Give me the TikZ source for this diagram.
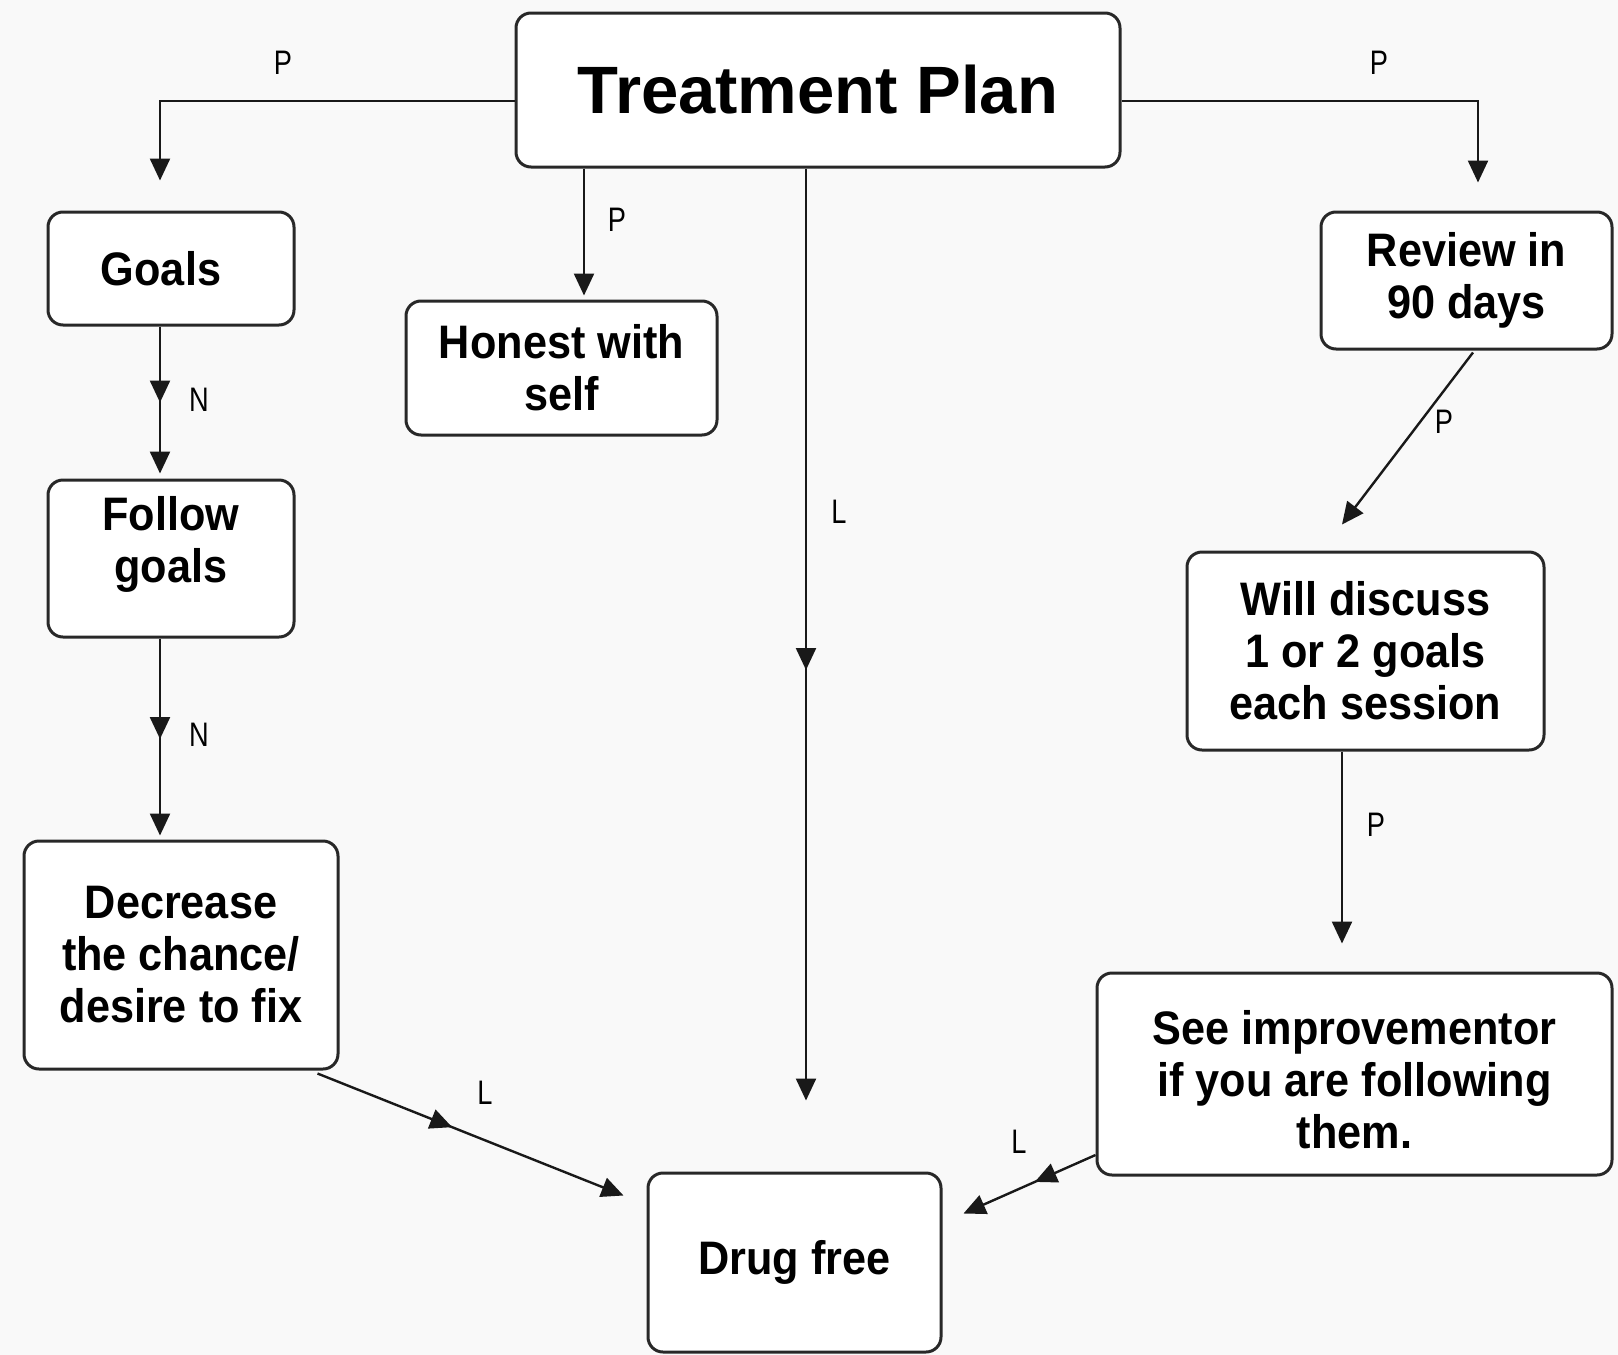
\documentclass[tikz,border=0pt]{standalone}
\usepackage{fontspec}
\setmainfont{Liberation Sans}
\newfontfamily\titlefont{Liberation Sans}
\newfontfamily\boxfont{Liberation Sans}[FakeStretch=0.92]
\newfontfamily\labelfont{Liberation Sans}[FakeStretch=0.8]
\usetikzlibrary{arrows.meta,calc,decorations.markings}

\definecolor{bg}{RGB}{249,249,249}
\definecolor{boxline}{RGB}{40,40,40}
\definecolor{lineclr}{RGB}{25,25,25}

% stacked lines with extra room above (#1) and below (#2)
\newcommand\padlines[3]{\raisebox{0pt}[\dimexpr\height+#1\relax][\dimexpr\depth+#2\relax]{%
  \begin{tabular}{@{}c@{}}#3\end{tabular}}}

\tikzset{
  box/.style={draw=boxline, line width=1.5pt, rounded corners=7.5pt, fill=white,
    align=center, inner sep=2pt,
    font=\boxfont\bfseries\fontsize{23.5}{26}\selectfont},
  conn/.style={draw=lineclr, line width=1.2pt, -{Triangle[length=11pt,width=10pt]}},
  midarrow/.style={postaction={decorate}, decoration={markings,
    mark=at position #1 with {\arrow{Triangle[length=11pt,width=10pt]}}}},
  lbl/.style={font=\labelfont\fontsize{17}{19}\selectfont, inner sep=0pt, text=black},
}

\begin{document}
\begin{tikzpicture}[x=0.5pt,y=-0.5pt]
% page background
\fill[bg] (0,0) rectangle (1618,1355);
\useasboundingbox (0,0) rectangle (1618,1355);

% boxes
\node[box, minimum width=302pt, minimum height=77pt,
      font=\titlefont\bfseries\fontsize{33.5}{40}\selectfont] (tp) at (818,90) {Treatment Plan};
\node[box, minimum width=123pt, minimum height=56.5pt] (goals) at (171,268.5) {Goals\hspace*{10pt}};
\node[box, minimum width=155.5pt, minimum height=67pt] (honest) at (561.5,368) {Honest with\\self};
\node[box, minimum width=123pt, minimum height=78.5pt] (follow) at (171,558.5) {\padlines{0pt}{12pt}{Follow\\goals}};
\node[box, minimum width=157pt, minimum height=114pt] (decrease) at (181,955) {Decrease\\the chance/\\desire to fix};
\node[box, minimum width=146.5pt, minimum height=89.5pt] (drug) at (794.5,1262.5) {Drug free};
\node[box, minimum width=145.5pt, minimum height=68.5pt] (review) at (1466.5,280.5) {Review in\\90 days};
\node[box, minimum width=178.5pt, minimum height=99pt] (discuss) at (1365.5,651) {Will discuss\\1 or 2 goals\\each session};
\node[box, minimum width=257.5pt, minimum height=101pt] (see) at (1354.5,1074) {\padlines{12pt}{0pt}{See improvementor\\if you are following\\them.}};

% routing points
\coordinate (eL) at (160,101);
\coordinate (eR) at (1478,101);
\coordinate (cH) at (584,0);
\coordinate (cD) at (806,0);
\coordinate (cG) at (160,0);
\coordinate (cS) at (1342,0);

% connectors
\draw[conn, shorten >=15pt] (tp.west |- eL) -- (eL) -- (goals.north -| eL);
\draw[conn, shorten >=14pt] (tp.east |- eR) -- (eR) -- (review.north -| eR);
\draw[conn, shorten >=2pt] (tp.south -| cH) -- (honest.north -| cH);
\draw[conn, midarrow=0.5, shorten >=35.5pt] (tp.south -| cD) -- (drug.north -| cD);
\draw[conn, midarrow=0.5, shorten >=2.5pt] (goals.south -| cG) -- (follow.north -| cG);
\draw[conn, midarrow=0.5, shorten >=2pt] (follow.south -| cG) -- (decrease.north -| cG);
\draw[conn, midarrow=0.44] ($(decrease.south east)+(-22,3)$) -- ($(drug.north west)+(-23,24)$);
\draw[conn] ($(review.south)+(6.5,2)$) -- ($(discuss.north)+(-23.5,-26)$);
\draw[conn, shorten >=14pt] (discuss.south -| cS) -- (see.north -| cS);
\draw[conn, midarrow=0.46] ($(see.west)+(0,81)$) -- ($(drug.north east)+(21,42)$);

% connector labels
\node[lbl] (p1) at (283,63) {P};
\node[lbl] (p2) at (1379,63) {P};
\node[lbl] (p3) at (617,220) {P};
\node[lbl] (l1) at (839,512) {L};
\node[lbl] (n1) at (199,400) {N};
\node[lbl] (n2) at (199,735) {N};
\node[lbl] (p4) at (1444,422) {P};
\node[lbl] (p5) at (1376,825) {P};
\node[lbl] (l2) at (485,1093) {L};
\node[lbl] (l3) at (1019,1142) {L};
\end{tikzpicture}
\end{document}
